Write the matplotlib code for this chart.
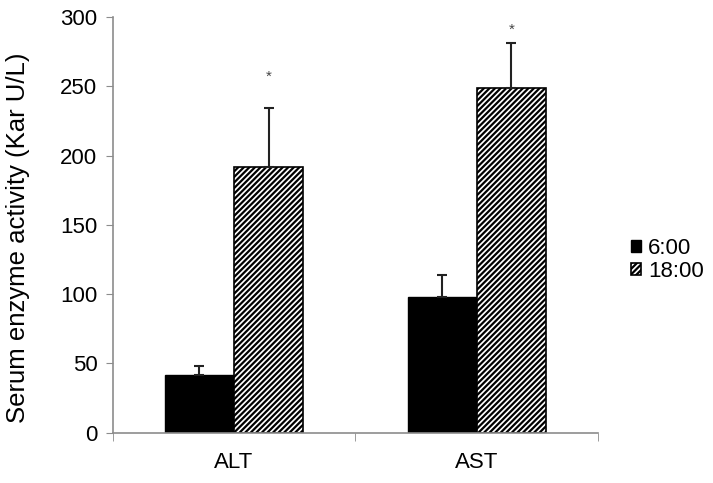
import numpy as np
import matplotlib.pyplot as plt

plt.rcParams['font.family'] = ['Liberation Sans', 'DejaVu Sans']
plt.rcParams['hatch.linewidth'] = 1.6

categories = ['ALT', 'AST']
morning = [42, 98]          # 6:00
morning_err = [6, 16]
evening = [192, 249]        # 18:00
evening_err = [42, 32]
star_y = [257, 291]

x = np.arange(len(categories))
w = 0.285
gray = '#8c8c8c'

fig, ax = plt.subplots(figsize=(7.13, 4.83), dpi=100)
fig.subplots_adjust(left=0.158, right=0.839, top=0.965, bottom=0.104)

ekw = dict(ecolor='#222222', elinewidth=1.5, capsize=3.5, capthick=1.5)
ax.bar(x - w / 2, morning, w, color='black', edgecolor='black', label='6:00',
       yerr=[[0, 0], morning_err], error_kw=ekw)
ax.bar(x + w / 2, evening, w, color='white', edgecolor='black', hatch='//////', linewidth=1.2,
       label='18:00', yerr=[[0, 0], evening_err], error_kw=ekw)

for xi, sy in zip(x, star_y):
    ax.text(xi + w / 2, sy, '*', ha='center', va='center', fontsize=11, color='#444444')

ax.set_xlim(-0.5, 1.5)
ax.set_ylim(0, 300)
ax.set_yticks(range(0, 301, 50))
ax.set_xticks(x)
ax.set_xticklabels(categories)
ax.set_xticks([-0.5, 0.5, 1.5], minor=True)
ax.tick_params(axis='x', which='major', length=0, pad=14, labelsize=16)
ax.tick_params(axis='x', which='minor', length=6, color=gray, direction='out')
ax.tick_params(axis='y', length=5, color=gray, labelsize=16, pad=6)
ax.set_ylabel('Serum enzyme activity (Kar U/L)', fontsize=18.5)
ax.yaxis.set_label_coords(-0.17, 0.47)

for s in ['top', 'right']:
    ax.spines[s].set_visible(False)
for s in ['left', 'bottom']:
    ax.spines[s].set_color(gray)
    ax.spines[s].set_linewidth(1.2)

ax.legend(loc='center left', bbox_to_anchor=(1.045, 0.415), frameon=False, fontsize=16,
          handlelength=0.45, handleheight=0.45, handletextpad=0.3, labelspacing=0.1,
          borderpad=0)

plt.savefig('out.png', dpi=100)
